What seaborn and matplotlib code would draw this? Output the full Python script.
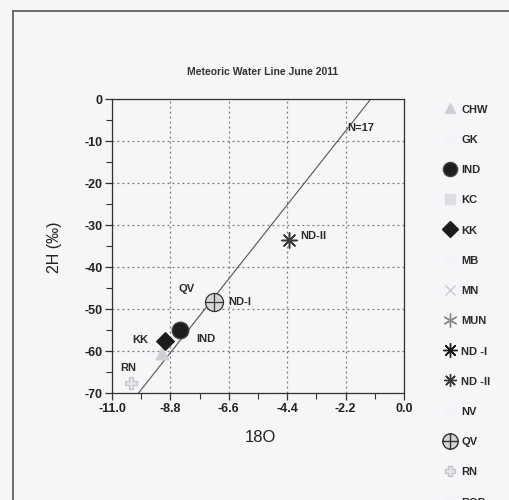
import numpy as np
import pandas as pd
import matplotlib
matplotlib.use("Agg")
import matplotlib.pyplot as plt
from matplotlib.path import Path
from matplotlib.lines import Line2D
import seaborn as sns

# ---- data -------------------------------------------------------------
sites = ["CHW", "GK", "IND", "KC", "KK", "MB", "MN", "MUN",
         "ND -I", "ND -II", "NV", "QV", "RN", "ROP"]

sample_site = ["CHW", "KK", "IND", "ND -I", "QV", "ND -II", "RN"]
sample_d18O = [-9.1, -9.0, -8.45, -7.15, -7.15, -4.35, -10.3]
sample_d2H = [-60.5, -57.5, -55.0, -48.3, -48.3, -33.6, -67.6]

# Global meteoric water line: d2H = 8 * d18O + 10
gmwl_slope = 8.0
gmwl_intercept = 10.0
gmwl_x = [-11.0, 0.0]

point_labels = ["N=17", "ND-II", "QV", "ND-I", "IND", "KK", "RN"]
label_x = [-2.13, -3.9, -8.2, -6.62, -7.83, -9.94, -10.4]
label_y = [-6.9, -32.6, -45.2, -48.3, -57.1, -57.4, -64.0]
label_ha = ["left", "left", "center", "left", "left", "center", "center"]

x_ticks = [-11.0, -8.8, -6.6, -4.4, -2.2, 0.0]
y_ticks = [0, -10, -20, -30, -40, -50, -60, -70]

# ---- marker styles ----------------------------------------------------
circle_plus = Path.make_compound_path(
    Path.unit_circle(),
    Path([[-1, 0], [1, 0], [0, -1], [0, 1]],
         [Path.MOVETO, Path.LINETO, Path.MOVETO, Path.LINETO]),
)

style = {
    "CHW":   dict(marker="^", face="#cfcfd4", edge="#cfcfd4", ms=9),
    "GK":    dict(marker="o", face="#f3f2f6", edge="#f3f2f6", ms=8),
    "IND":   dict(marker="o", face="#1e1e1e", edge="#444444", ms=12),
    "KC":    dict(marker="s", face="#dddde2", edge="#dddde2", ms=9),
    "KK":    dict(marker="D", face="#1c1c1c", edge="#1c1c1c", ms=9),
    "MB":    dict(marker="o", face="#f3f2f6", edge="#f3f2f6", ms=8),
    "MN":    dict(marker="x", face="#c8c8cc", edge="#c8c8cc", ms=9),
    "MUN":   dict(marker=(6, 2, 0), face="#8a8a8a", edge="#8a8a8a", ms=12),
    "ND -I": dict(marker=(8, 2, 0), face="#1a1a1a", edge="#1a1a1a", ms=12),
    "ND -II": dict(marker=(8, 2, 0), face="#3a3a3a", edge="#3a3a3a", ms=11),
    "NV":    dict(marker="o", face="#f3f2f6", edge="#f3f2f6", ms=8),
    "QV":    dict(marker=circle_plus, face="#d6d6d8", edge="#333333", ms=13),
    "RN":    dict(marker="P", face="#e4e4e8", edge="#c4c4c8", ms=9),
    "ROP":   dict(marker="o", face="#f3f2f6", edge="#f3f2f6", ms=8),
}

# ---- figure -----------------------------------------------------------
sns.set_theme(style="white")
plt.rcParams["font.family"] = ["Liberation Sans", "DejaVu Sans"]

bg = "#f6f5f8"
fig = plt.figure(figsize=(5.09, 5.0), dpi=100, facecolor=bg)
ax = fig.add_axes([112 / 509, 1 - 393 / 500, 292 / 509, 294 / 500])
ax.set_facecolor(bg)

df = pd.DataFrame({"site": sample_site, "d18O": sample_d18O, "d2H": sample_d2H})

# meteoric water line
line_y = [gmwl_slope * v + gmwl_intercept for v in gmwl_x]
sns.lineplot(x=gmwl_x, y=line_y, ax=ax, color="#555555", linewidth=0.8, zorder=2)

# sample points, one call per site so each keeps its own marker
for site in sample_site:
    st = style[site]
    sub = df[df["site"] == site]
    filled = st["marker"] not in ("x", "+") and not isinstance(st["marker"], tuple)
    kw = dict(marker=st["marker"], s=st["ms"] ** 2, ax=ax, legend=False, zorder=4)
    if filled:
        kw.update(color=st["face"], edgecolor=st["edge"], linewidth=0.9)
    else:
        kw.update(color=st["face"], linewidth=1.1)
    sns.scatterplot(data=sub, x="d18O", y="d2H", **kw)

# in-plot labels
for txt, lx, ly, ha in zip(point_labels, label_x, label_y, label_ha):
    ax.text(lx, ly, txt, ha=ha, va="center", fontsize=8, fontweight="bold",
            color="#2a2a2a", zorder=5)

# axes, ticks and grid
ax.set_xlim(-11.0, 0.0)
ax.set_ylim(-70, 0)
ax.set_xticks(x_ticks)
ax.set_xticklabels([f"{v:.1f}" for v in x_ticks])
ax.set_yticks(y_ticks)
ax.set_yticklabels([str(v) for v in y_ticks])
ax.set_xticks([v + 1.1 for v in x_ticks[:-1]], minor=True)
ax.set_yticks([v - 5 for v in y_ticks[:-1]], minor=True)
ax.tick_params(axis="both", which="major", direction="out", length=5, width=0.9,
               color="#333333", labelsize=9, labelcolor="#222222", pad=2,
               bottom=True, left=True)
ax.tick_params(axis="both", which="minor", direction="out", length=4, width=0.8,
               color="#333333", bottom=True, left=True)
for lab in ax.get_xticklabels() + ax.get_yticklabels():
    lab.set_fontweight("bold")
ax.grid(True, which="major", linestyle=(0, (1.5, 2.5)), color="#777777", linewidth=0.9)
for sp in ax.spines.values():
    sp.set_color("#333333")
    sp.set_linewidth(0.9)
ax.set_xlabel("")
ax.set_ylabel("")

fig.text(263 / 509, 1 - 72 / 500, "Meteoric Water Line June 2011",
         ha="center", va="center", fontsize=7.5, fontweight="bold", color="#333333")
fig.text(260 / 509, 1 - 438 / 500, "18O", ha="center", va="center",
         fontsize=12, color="#222222")
fig.text(55 / 509, 1 - 247 / 500, "2H (‰)", ha="center", va="center",
         rotation=90, fontsize=11.5, color="#222222")

# legend listing every site
handles = [Line2D([], [], linestyle="none", marker=style[s]["marker"],
                  markersize=style[s]["ms"] * 0.85,
                  markerfacecolor=style[s]["face"], markeredgecolor=style[s]["edge"],
                  markeredgewidth=1.0)
           for s in sites]
leg = fig.legend(handles, sites, loc="upper left", bbox_to_anchor=(443 / 509, 1 - 104 / 500),
                 frameon=False, fontsize=8, handlelength=1.2, handleheight=1.0,
                 handletextpad=0.45, labelspacing=1.75, borderpad=0, borderaxespad=0)
for t in leg.get_texts():
    t.set_fontweight("bold")
    t.set_color("#2a2a2a")

# outer page frame
fig.add_artist(Line2D([13 / 509, 13 / 509], [0, 1 - 11 / 500], transform=fig.transFigure,
                      color="#555555", linewidth=1.2))
fig.add_artist(Line2D([13 / 509, 1], [1 - 11 / 500, 1 - 11 / 500], transform=fig.transFigure,
                      color="#555555", linewidth=1.2))

fig.savefig("out.png", dpi=100, facecolor=bg)
